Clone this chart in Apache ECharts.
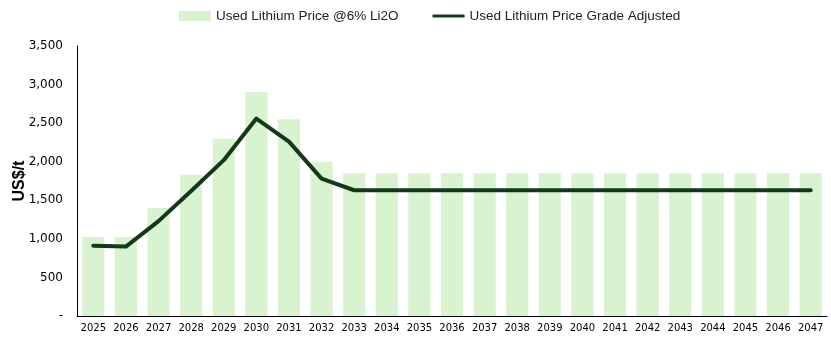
<!DOCTYPE html>
<html>
<head>
<meta charset="utf-8">
<script src="https://cdn.jsdelivr.net/npm/echarts@6/dist/echarts.min.js"></script>
<style>html,body{margin:0;padding:0;background:#fff}#c{width:831px;height:340px}</style>
</head>
<body>
<div id="c"></div>
<script>
const years = ['2025','2026','2027','2028','2029','2030','2031','2032','2033','2034','2035','2036','2037','2038','2039','2040','2041','2042','2043','2044','2045','2046','2047'];
const priceAt6 = [1025,1025,1400,1830,2300,2900,2550,2000,1850,1850,1850,1850,1850,1850,1850,1850,1850,1850,1850,1850,1850,1850,1850];
const gradeAdjusted = [910,900,1230,1620,2020,2560,2260,1780,1630,1630,1630,1630,1630,1630,1630,1630,1630,1630,1630,1630,1630,1630,1630];
const yTicks = [0,500,1000,1500,2000,2500,3000,3500];

const chart = echarts.init(document.getElementById('c'), null, {renderer:'canvas'});
chart.setOption({
  animation:false,
  legend:{
    top:4, left:174, itemWidth:32, itemHeight:10, itemGap:34,
    textStyle:{fontFamily:'Liberation Sans, sans-serif', fontSize:13.5, color:'#222'},
    data:[
      {name:'Used Lithium Price @6% Li2O', icon:'rect'},
      {name:'Used Lithium Price Grade Adjusted', icon:'path://M0,4 L32,4 L32,7 L0,7 Z'}
    ]
  },
  grid:{left:77, right:4, top:46, bottom:24, containLabel:false, outerBoundsMode:'none'},
  xAxis:{
    type:'category', data:years,
    axisLine:{lineStyle:{color:'#000', width:1}},
    axisTick:{show:false},
    axisLabel:{fontFamily:'DejaVu Sans', fontSize:10, color:'#000', margin:7, interval:0}
  },
  yAxis:{
    type:'value', min:0, max:3500, interval:500,
    name:'US$/t', nameLocation:'middle', nameGap:49, nameMoveOverlap:false,
    nameTextStyle:{fontFamily:'Liberation Sans, sans-serif', fontWeight:'bold', fontSize:16, color:'#000'},
    axisLine:{show:true, lineStyle:{color:'#000', width:1}},
    axisTick:{show:false},
    splitLine:{show:false},
    axisLabel:{fontFamily:'DejaVu Sans', fontSize:12, color:'#000', margin:14,
      formatter:function(v){ return v===0 ? '-' : v.toLocaleString('en-US'); }}
  },
  series:[
    {name:'Used Lithium Price @6% Li2O', type:'bar', data:priceAt6, barCategoryGap:'32%',
     itemStyle:{color:'#d9f2d0'}},
    {name:'Used Lithium Price Grade Adjusted', type:'line', data:gradeAdjusted, symbol:'none',
     lineStyle:{color:'#12391a', width:4, cap:'round', join:'round'}, itemStyle:{color:'#12391a'}}
  ]
});
</script>
</body>
</html>
